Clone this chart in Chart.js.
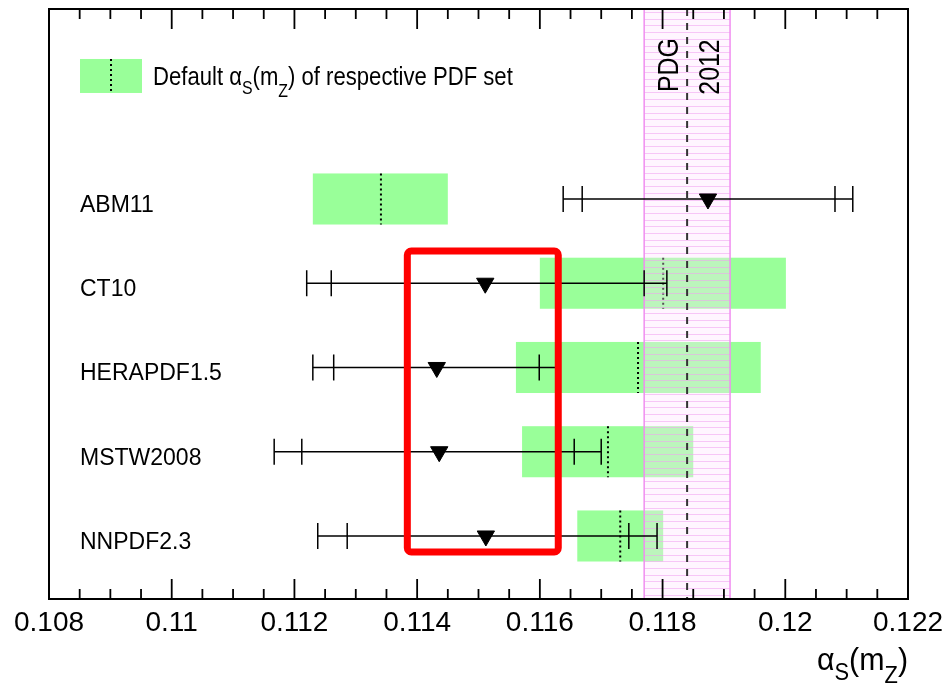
<!DOCTYPE html>
<html>
<head>
<meta charset="utf-8">
<script src="https://cdn.jsdelivr.net/npm/chart.js@4.4.0/dist/chart.umd.min.js"></script>
<style>
  html, body { margin: 0; padding: 0; background: #fff; }
  #wrap { width: 947px; height: 688px; }
</style>
</head>
<body>
<div id="wrap"><canvas id="alphaChart" width="947" height="688"></canvas></div>
<script>
// PDF sets, one row each (row 1 at the top)
const pdfSets   = ['ABM11', 'CT10', 'HERAPDF1.5', 'MSTW2008', 'NNPDF2.3'];
const rowPos    = [1, 2, 3, 4, 5];
// fitted alpha_s with inner (exp) and outer (total) errors
const central   = [0.11874, 0.11511, 0.11432, 0.11436, 0.11512];
const innerLo   = [0.11669, 0.11260, 0.11264, 0.11212, 0.11286];
const innerHi   = [0.12081, 0.11770, 0.11599, 0.11656, 0.11745];
const outerLo   = [0.11638, 0.11220, 0.11230, 0.11167, 0.11238];
const outerHi   = [0.12110, 0.11807, 0.11630, 0.11700, 0.11791];
// default alpha_s range and value of each PDF set (green boxes)
const bandLo    = [0.11230, 0.11600, 0.11561, 0.11571, 0.11661];
const bandHi    = [0.11450, 0.12001, 0.11960, 0.11850, 0.11801];
const defaultAs = [0.11341, 0.11801, 0.11760, 0.11711, 0.11731];
// PDG 2012 world average
const pdgValue  = 0.1184;
const pdgError  = 0.0007;
// axis
const xMajorTicks = [0.108, 0.110, 0.112, 0.114, 0.116, 0.118, 0.120, 0.122];
const xTickLabels = ['0.108', '0.11', '0.112', '0.114', '0.116', '0.118', '0.12', '0.122'];
const xMinorTicks = xMajorTicks.slice(0, -1).flatMap(v => [v + 0.0005, v + 0.001, v + 0.0015]);
// red highlight box (data units)
const highlightX = [0.11384, 0.11630];
const highlightY = [1.617, 5.19];

const FONT = '"Liberation Sans", Arial, Helvetica, sans-serif';
const bandHalf = 0.303;

// text with horizontal squeeze (ROOT Helvetica looks a bit narrow)
function squeezedText(ctx, s, x, y, size, sx, align) {
    ctx.save();
    ctx.font = size + 'px ' + FONT;
    const w = ctx.measureText(s).width * sx;
    let x0 = x;
    if (align === 'right') x0 = x - w;
    if (align === 'center') x0 = x - w / 2;
    ctx.translate(x0, y);
    ctx.scale(sx, 1);
    ctx.textAlign = 'left';
    ctx.fillText(s, 0, 0);
    ctx.restore();
    return w;
}

// alpha_S(m_Z) style text: parts with sub flag
function richText(ctx, parts, x, y, size, sx, align) {
    ctx.save();
    const subSize = size * 0.72;
    const widths = parts.map(p => {
        ctx.font = (p.sub ? subSize : size) + 'px ' + FONT;
        return ctx.measureText(p.t).width * sx;
    });
    const total = widths.reduce((a, b) => a + b, 0);
    let cx = align === 'right' ? x - total : x;
    parts.forEach((p, i) => {
        const dy = p.sub ? size * (p.low || 0.38) : 0;
        squeezedText(ctx, p.t, cx, y + dy, p.sub ? subSize : size, sx, 'left');
        cx += widths[i];
    });
    ctx.restore();
}

const alphaPlot = {
    id: 'alphaPlot',
    beforeDatasetsDraw(chart) {
        const { ctx, chartArea: a, scales: { x, y } } = chart;
        ctx.save();
        ctx.beginPath();
        ctx.rect(a.left, a.top, a.width, a.height);
        ctx.clip();

        // green boxes with dotted default value
        rowPos.forEach((r, i) => {
            const x0 = x.getPixelForValue(bandLo[i]);
            const x1 = x.getPixelForValue(bandHi[i]);
            const y0 = Math.min(y.getPixelForValue(r - bandHalf), y.getPixelForValue(r + bandHalf));
            const y1 = Math.max(y.getPixelForValue(r - bandHalf), y.getPixelForValue(r + bandHalf));
            ctx.fillStyle = '#99ff99';
            ctx.fillRect(x0, y0, x1 - x0, y1 - y0);
            const xd = x.getPixelForValue(defaultAs[i]);
            ctx.strokeStyle = '#000';
            ctx.lineWidth = 2;
            ctx.setLineDash([2, 3]);
            ctx.beginPath();
            ctx.moveTo(xd, y0);
            ctx.lineTo(xd, y1);
            ctx.stroke();
            ctx.setLineDash([]);
        });

        // PDG band (hatched pink)
        const p0 = x.getPixelForValue(pdgValue - pdgError);
        const p1 = x.getPixelForValue(pdgValue + pdgError);
        ctx.fillStyle = 'rgba(255,225,255,0.35)';
        ctx.fillRect(p0, a.top, p1 - p0, a.height);
        ctx.strokeStyle = 'rgba(240,160,240,0.55)';
        ctx.lineWidth = 1;
        for (let yy = a.top + 3; yy < a.bottom; yy += 6.7) {
            ctx.beginPath();
            ctx.moveTo(p0, Math.round(yy) + 0.5);
            ctx.lineTo(p1, Math.round(yy) + 0.5);
            ctx.stroke();
        }
        ctx.strokeStyle = '#f08ef0';
        ctx.lineWidth = 1.5;
        [p0, p1].forEach(px => {
            ctx.beginPath();
            ctx.moveTo(px, a.top);
            ctx.lineTo(px, a.bottom);
            ctx.stroke();
        });
        const pc = x.getPixelForValue(pdgValue);
        ctx.strokeStyle = '#333';
        ctx.lineWidth = 2;
        ctx.setLineDash([7, 7]);
        ctx.beginPath();
        ctx.moveTo(pc, a.top);
        ctx.lineTo(pc, a.bottom);
        ctx.stroke();
        ctx.setLineDash([]);

        // PDG / 2012 rotated labels
        ctx.fillStyle = '#000';
        [['PDG', pc - 17, 65], ['2012', pc + 24, 67]].forEach(([s, px, py]) => {
            ctx.save();
            ctx.translate(px, py);
            ctx.rotate(-Math.PI / 2);
            ctx.textBaseline = 'middle';
            squeezedText(ctx, s, 0, 0, 29, 0.86, 'center');
            ctx.restore();
        });
        ctx.restore();
    },
    afterDatasetsDraw(chart) {
        const { ctx, chartArea: a, scales: { x, y } } = chart;
        ctx.save();

        // red highlight box
        const rx0 = x.getPixelForValue(highlightX[0]);
        const rx1 = x.getPixelForValue(highlightX[1]);
        const ry0 = y.getPixelForValue(highlightY[0]);
        const ry1 = y.getPixelForValue(highlightY[1]);
        ctx.strokeStyle = '#ff0000';
        ctx.lineWidth = 7;
        ctx.beginPath();
        ctx.roundRect(rx0, Math.min(ry0, ry1), rx1 - rx0, Math.abs(ry1 - ry0), 4);
        ctx.stroke();

        // frame and ROOT-style inner ticks
        ctx.strokeStyle = '#000';
        ctx.lineWidth = 2;
        ctx.strokeRect(a.left, a.top, a.width, a.height);
        ctx.lineWidth = 1.8;
        const tick = (v, len) => {
            const px = x.getPixelForValue(v);
            ctx.beginPath();
            ctx.moveTo(px, a.bottom); ctx.lineTo(px, a.bottom - len);
            ctx.moveTo(px, a.top);    ctx.lineTo(px, a.top + len);
            ctx.stroke();
        };
        xMajorTicks.forEach(v => tick(v, 20));
        xMinorTicks.forEach(v => tick(v, 10));

        // row labels
        ctx.fillStyle = '#000';
        ctx.textBaseline = 'alphabetic';
        rowPos.forEach((r, i) => {
            squeezedText(ctx, pdfSets[i], a.left + 31, y.getPixelForValue(r) + 13, 23, 1, 'left');
        });

        // legend
        const ly = y.getPixelForValue(-0.46);
        const lx = a.left + 31;
        ctx.fillStyle = '#99ff99';
        ctx.fillRect(lx, ly - 17, 62, 34);
        ctx.strokeStyle = '#000';
        ctx.lineWidth = 2;
        ctx.setLineDash([2, 3]);
        ctx.beginPath();
        ctx.moveTo(lx + 31, ly - 17);
        ctx.lineTo(lx + 31, ly + 17);
        ctx.stroke();
        ctx.setLineDash([]);
        ctx.fillStyle = '#000';
        richText(ctx, [
            { t: 'Default ' }, { t: 'α' }, { t: 'S', sub: true, low: 0.36 },
            { t: '(m' }, { t: 'Z', sub: true, low: 0.48 }, { t: ') of respective PDF set' }
        ], lx + 73, ly + 9, 26, 0.85, 'left');

        // x axis title
        richText(ctx, [
            { t: 'α' }, { t: 'S', sub: true, low: 0.3 }, { t: '(m' },
            { t: 'Z', sub: true, low: 0.42 }, { t: ')' }
        ], a.right, 670, 32, 0.95, 'right');

        ctx.restore();
    }
};

const errorLines = rowPos.map((r, i) => ({
    type: 'line',
    data: [{ x: outerLo[i], y: r }, { x: outerHi[i], y: r }],
    borderColor: '#000',
    borderWidth: 1.5,
    pointRadius: 0,
    showLine: true,
    order: 3
}));

const tickMarks = {
    data: rowPos.flatMap((r, i) => [outerLo[i], innerLo[i], innerHi[i], outerHi[i]].map(v => ({ x: v, y: r }))),
    pointStyle: 'line',
    rotation: 90,
    pointRadius: 13,
    borderColor: '#000',
    borderWidth: 1.5,
    order: 2
};

const centralMarkers = {
    data: rowPos.map((r, i) => ({ x: central[i], y: r })),
    pointStyle: 'triangle',
    rotation: 180,
    pointRadius: 10,
    backgroundColor: '#000',
    borderColor: '#000',
    borderWidth: 1,
    order: 1
};

new Chart(document.getElementById('alphaChart').getContext('2d'), {
    type: 'scatter',
    data: { datasets: [...errorLines, tickMarks, centralMarkers] },
    options: {
        responsive: false,
        animation: false,
        devicePixelRatio: 1,
        layout: { autoPadding: false, padding: { left: 49, top: 9, right: 39, bottom: 0 } },
        plugins: {
            legend: { display: false },
            tooltip: { enabled: false }
        },
        scales: {
            x: {
                type: 'linear',
                min: 0.108,
                max: 0.122,
                afterBuildTicks: s => { s.ticks = xMajorTicks.map(v => ({ value: v })); },
                afterFit: s => { s.height = 89; s.paddingLeft = 0; s.paddingRight = 0; },
                grid: { display: false, drawTicks: false },
                border: { display: false },
                ticks: {
                    autoSkip: false,
                    maxRotation: 0,
                    padding: 7,
                    color: '#000',
                    font: { family: FONT, size: 28 },
                    callback: (v) => xTickLabels[xMajorTicks.findIndex(t => Math.abs(t - v) < 1e-9)]
                }
            },
            y: {
                type: 'linear',
                reverse: true,
                min: -1.255,
                max: 5.748,
                display: false
            }
        }
    },
    plugins: [alphaPlot]
});
</script>
</body>
</html>
